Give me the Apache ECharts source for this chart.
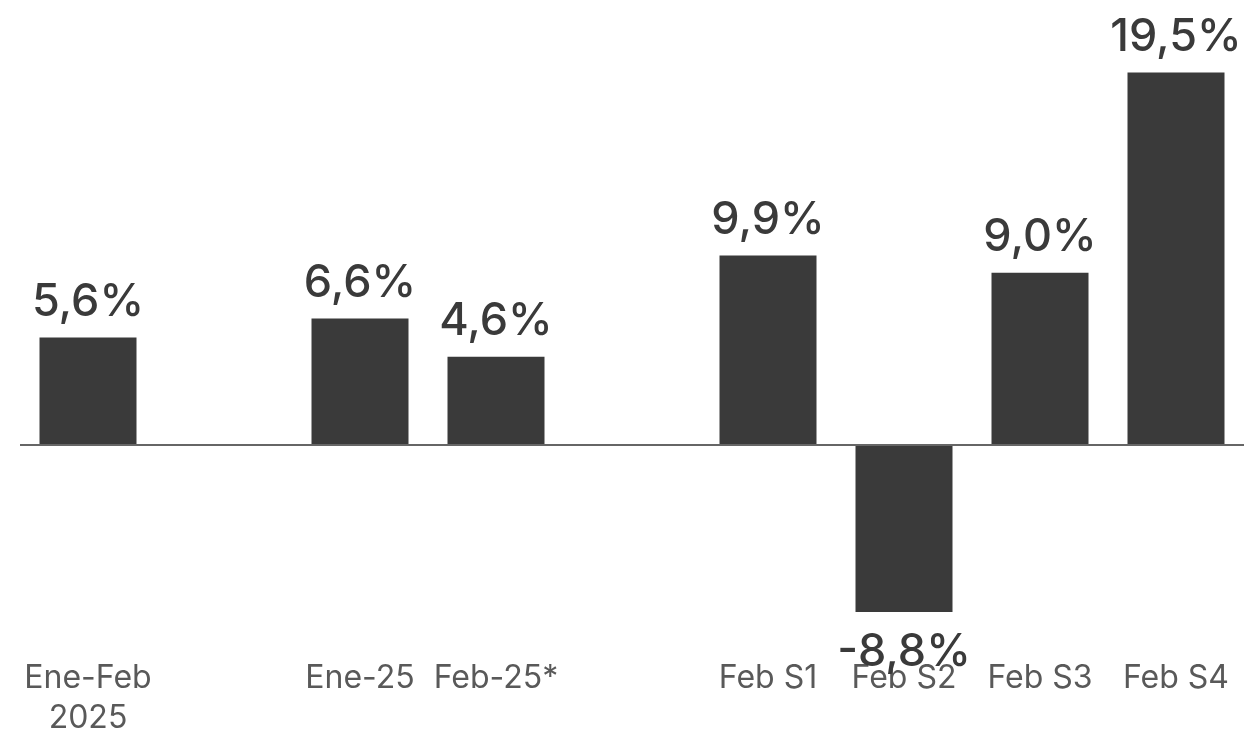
<!DOCTYPE html>
<html><head><meta charset="utf-8">
<script src="https://cdn.jsdelivr.net/npm/echarts@6/dist/echarts.min.js"></script>
<style>html,body{margin:0;padding:0;background:#fff}#c{width:1259px;height:733px}</style>
</head><body><div id="c"></div>
<script>
const categories = ["Ene-Feb\n2025", "", "Ene-25", "Feb-25*", "", "Feb S1", "Feb S2", "Feb S3", "Feb S4"];
const values = [5.6, null, 6.6, 4.6, null, 9.9, -8.8, 9.0, 19.5];
const yTicks = { min: -10, max: 20, interval: 10 };

const seriesData = values.map(v => v != null && v < 0 ? { value: v, label: { position: 'bottom', distance: 18 } } : v);

const chart = echarts.init(document.getElementById('c'));
chart.setOption({
  animation: false,
  grid: { left: 20, right: 15, top: 63, bottom: 98, containLabel: false, outerBoundsMode: 'none' },
  xAxis: {
    type: 'category', data: categories,
    axisLine: { show: false }, axisTick: { show: false },
    axisLabel: { interval: 0, color: '#595959', fontFamily: 'Inter', fontSize: 32, lineHeight: 40, margin: 23 }
  },
  yAxis: {
    type: 'value', min: yTicks.min, max: yTicks.max, interval: yTicks.interval,
    show: false, splitLine: { show: false }
  },
  series: [{
    type: 'bar', data: seriesData, barWidth: 97,
    itemStyle: { color: '#3a3a3a' },
    label: {
      show: true, color: '#3a3a3a', fontFamily: 'Inter', fontWeight: 500, fontSize: 45, distance: 13,
      position: 'top',
      formatter: p => p.value == null ? '' : p.value.toFixed(1).replace('.', ',') + '%'
    },
    markLine: {
      silent: true, symbol: 'none', label: { show: false },
      lineStyle: { color: '#666', width: 2, type: 'solid' },
      data: [{ yAxis: 0 }]
    }
  }]
});
</script></body></html>
